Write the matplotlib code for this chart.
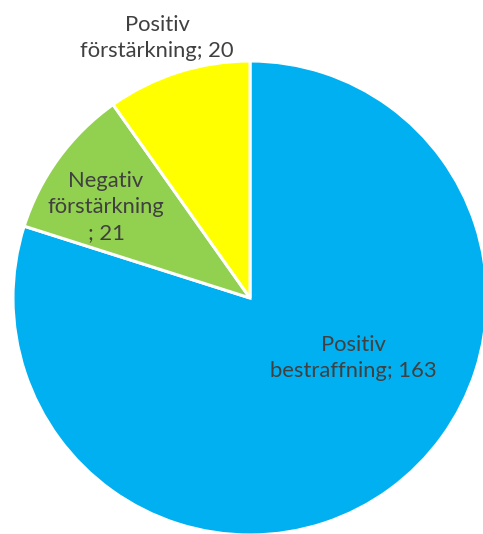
import matplotlib.pyplot as plt

labels = ['Positiv\nbestraffning; 163', 'Negativ\nförstärkning\n; 21', 'Positiv\nförstärkning; 20']
values = [163, 21, 20]
colors = ['#00B0F0', '#92D050', '#FFFF00']

fig = plt.figure(figsize=(4.83, 5.34), dpi=100)
ax = fig.add_axes([0, 0, 1, 1])

ax.pie(values, colors=colors, startangle=90, counterclock=False,
       center=(250, 236), radius=237, frame=True,
       wedgeprops=dict(edgecolor='white', linewidth=2.2))
ax.set_xlim(0, 483)
ax.set_ylim(0, 534)
ax.set_aspect('equal')
ax.axis('off')

# label positions (pixels, from top)
pos = [(353, 358), (106, 207), (157, 38)]
for lab, (x, y) in zip(labels, pos):
    ax.text(x, 534 - y, lab, ha='center', va='center', fontsize=15.8,
            color='#404040', family='Lato', linespacing=1.4)

plt.savefig('out.png', dpi=100)
